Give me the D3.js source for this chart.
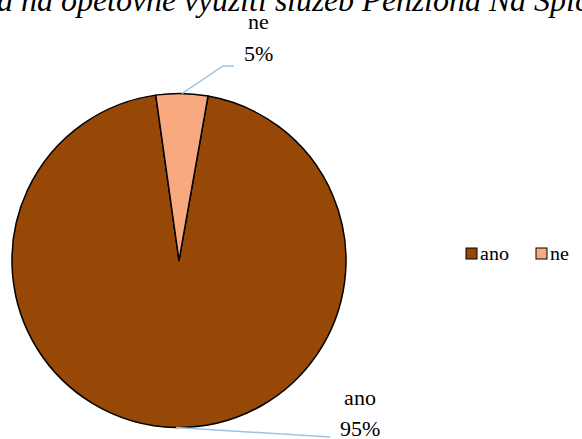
<!DOCTYPE html>
<html><head><meta charset="utf-8">
<script src="https://cdn.jsdelivr.net/npm/d3@7"></script>
<style>
@font-face{font-family:"ChartSerif";font-style:normal;font-weight:400;src:local("Liberation Serif"),local("LiberationSerif"),local("Tinos"),local("Times New Roman");}
@font-face{font-family:"ChartSerif";font-style:italic;font-weight:400;src:local("Liberation Serif Italic"),local("LiberationSerif-Italic"),local("Tinos Italic"),local("Times New Roman Italic");}
body{margin:0;background:#fff}
svg text, svg tspan{font-family:"ChartSerif","Liberation Serif",Tinos,"Times New Roman",serif !important}
</style>
</head><body>
<svg id="c" width="582" height="439"></svg>
<script>
const chartTitle = "Ochota na opětovné využití služeb Penziona Na Špičáku";
const categories = ["ano", "ne"];
const values = [95, 5];
const percentLabels = ["95%", "5%"];
const colors = ["#974706", "#F9A97F"];

const svg = d3.select("#c");
const cx = 179, cy = 260.5, r = 167;

// pie
const pie = d3.pie().sort(null).value(d => d)
  .startAngle(10 * Math.PI / 180).endAngle(370 * Math.PI / 180);
const arcs = pie(values);
const arc = d3.arc().innerRadius(0).outerRadius(r);
const g = svg.append("g").attr("transform", `translate(${cx},${cy})`);
g.selectAll("path").data(arcs).enter().append("path")
  .attr("d", arc).attr("fill", (d, i) => colors[i])
  .attr("stroke", "#000").attr("stroke-width", 1.5).attr("stroke-linejoin", "round");

// leader lines and labels
const labelPos = [
  {line: [[330, 437]], tx: 360, ty1: 405, ty2: 436},
  {line: [[223, 66], [234, 66]], tx: 258, ty1: 29, ty2: 61}
];
arcs.forEach((a, i) => {
  const mid = (a.startAngle + a.endAngle) / 2;
  const p0 = [cx + r * Math.sin(mid), cy - r * Math.cos(mid)];
  svg.append("path").attr("d", d3.line()([p0].concat(labelPos[i].line))).attr("fill", "none")
    .attr("stroke", "#9DC3E6").attr("stroke-width", 1.5);
  const t = svg.append("text").attr("text-anchor", "middle").attr("font-size", 22).attr("fill", "#000");
  t.append("tspan").attr("x", labelPos[i].tx).attr("y", labelPos[i].ty1).text(categories[i]);
  t.append("tspan").attr("x", labelPos[i].tx).attr("y", labelPos[i].ty2).text(percentLabels[i]);
});

// legend
const legX = [466, 536];
categories.forEach((c, i) => {
  svg.append("rect").attr("x", legX[i]).attr("y", 248).attr("width", 11).attr("height", 11)
    .attr("fill", colors[i]).attr("stroke", "#000").attr("stroke-width", 1);
  svg.append("text").attr("x", legX[i] + 14).attr("y", 260)
    .attr("font-size", 20).attr("fill", "#000").text(c);
});

// title, clipped at top and sides as in the reference
const tt = svg.append("text").attr("x", 0).attr("y", 11)
  .attr("font-style", "italic").attr("font-size", 30).attr("fill", "#000").text(chartTitle);
const startIdx = chartTitle.indexOf("a na");
const endIdx = chartTitle.indexOf("Špi") + 3;
const s0 = tt.node().getSubStringLength(0, startIdx);
const sw = tt.node().getSubStringLength(startIdx, endIdx - startIdx);
const fs = Math.min(32, 30 * 588 / sw);
tt.attr("font-size", fs).attr("x", -s0 * fs / 30 - 3);
</script>
</body></html>
